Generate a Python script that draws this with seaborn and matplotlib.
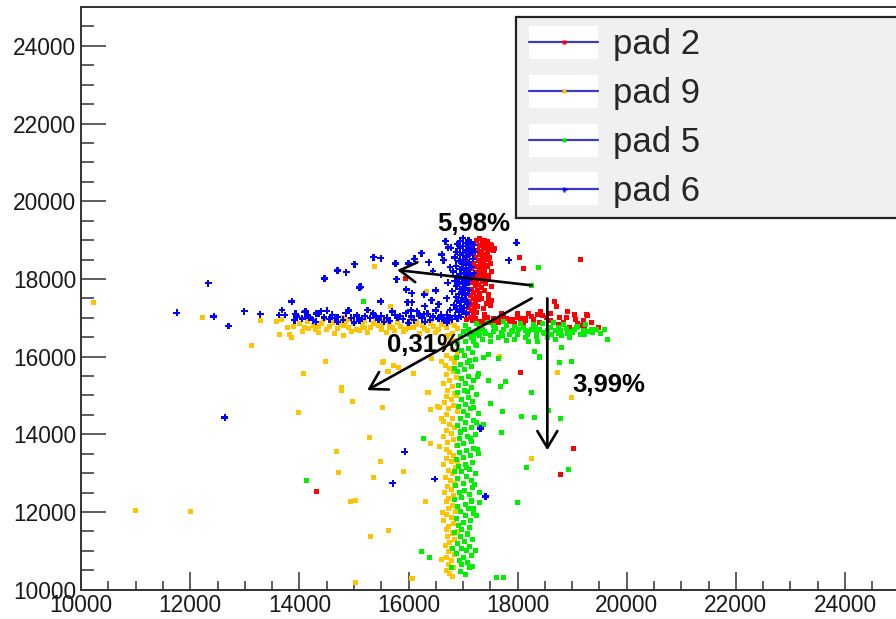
import numpy as np
import pandas as pd
import matplotlib
matplotlib.use("Agg")
import matplotlib.pyplot as plt
import seaborn as sns
from matplotlib.lines import Line2D
from matplotlib.patches import Rectangle
from matplotlib.legend_handler import HandlerBase
from matplotlib.ticker import MultipleLocator

# ---------------------------------------------------------------- data
pad_names = ["pad 2", "pad 9", "pad 5", "pad 6"]
pad_colors = ["#ff0000", "#ffc400", "#00f000", "#0000ff"]

# pad 2 (red)
pad2_x = [17300, 17400, 17250, 17450, 17350, 17200, 17500, 17300, 17420, 17150, 17380, 17480, 17260, 17330,
          17440, 17180, 17300, 17400, 17220, 17350, 17470, 17280, 17380, 17200, 17320, 17420, 17250, 17350,
          17150, 17300, 17400, 17230, 17330, 17270, 17380, 17200, 17300, 17240, 17350, 17180, 17290, 17220,
          17330, 17160, 17260, 17200, 17300, 17140, 17250, 17190, 17280, 17120, 17230, 17170, 17260, 17100,
          17210, 17150, 17250, 17080, 17190, 17130, 17230, 17060, 17170, 17520, 17500, 17110, 17050, 17460,
          17450, 17520, 17380, 17550, 17420, 17480, 17360, 17500, 17440, 17400, 17520, 17350, 17470, 17410,
          17530, 17390, 17460, 17340, 17430, 17370,
          17300, 17400, 17500, 17600, 17700, 17800, 17900, 18000, 18100, 18200, 18300, 18360, 18420, 18530,
          18670, 18720, 18770, 18910, 18950, 19060, 19100, 19220, 19260, 19480, 19280,
          17350, 17450, 17550, 17650, 17750, 17850, 17950, 18050, 18150, 18250, 18400, 18600, 18850, 19150,
          17990, 18080, 17870, 17690,
          17400, 17550, 17700, 17850, 18000, 18150, 18300, 18450, 18600, 18750, 18900, 19050, 19200, 19350,
          18040, 18110, 17580, 19160, 15940, 18050, 19030, 18780, 14310, 17470]
pad2_y = [19050, 19000, 18980, 18950, 18920, 18900, 18880, 18850, 18820, 18800, 18780, 18760, 18740, 18700,
          18680, 18650, 18620, 18590, 18560, 18530, 18500, 18470, 18440, 18410, 18380, 18350, 18320, 18290,
          18260, 18230, 18200, 18170, 18140, 18100, 18060, 18030, 18000, 17960, 17930, 17900, 17860, 17820,
          17780, 17740, 17700, 17660, 17620, 17580, 17540, 17500, 17460, 17420, 17380, 17340, 17300, 17260,
          17220, 17180, 17140, 17100, 17060, 17020, 16990, 16960, 16930, 17450, 17320, 18700, 18500, 18100,
          18960, 18870, 18790, 18720, 18640, 18560, 18480, 18400, 18330, 18250, 18180, 18080, 17990, 17890,
          17800, 17700, 17600, 17500, 17380, 17250,
          16900, 16950, 16880, 16960, 16920, 16990, 16950, 17010, 16890, 17110, 16960, 17090, 17170, 17000,
          17430, 17290, 17000, 17150, 16760, 16960, 16850, 16700, 17090, 16750, 17060,
          16850, 17020, 16940, 16880, 17050, 16900, 16860, 16980, 16930, 17040, 16880, 16920, 16880, 16790,
          17000, 16890, 16960, 16960,
          17080, 16980, 17100, 16930, 17120, 16990, 16900, 17050, 17100, 16830, 17000, 17080, 16920, 16880,
          18550, 18270, 18780, 18500, 18010, 15590, 13630, 12960, 12530, 17460]

# pad 9 (orange)
pad9_x = [14000, 14100, 14150, 14250, 14300, 14400, 14450, 14550, 14600, 14700, 14750, 14850, 14900, 15000,
          15050, 15150, 15200, 15300, 15350, 15450, 15500, 15550, 15650, 15700, 15800, 15850, 15950, 16000,
          16100, 16150, 16250, 16300, 16400, 16450, 16550, 16600, 16700, 16750, 16850, 16900, 14050, 14350,
          14650, 14950, 15250, 15600, 15900, 16200, 16500, 14200, 14800, 15400, 16050, 16650, 14500, 15100,
          15750, 16350, 14900, 15500, 16000, 13900, 14350, 14800, 15200, 15650, 16150,
          16800, 16700, 16850, 16750, 16650, 16800, 16900, 16700, 16780, 16850, 16680, 16750, 16820, 16700,
          16880, 16760, 16650, 16800, 16720, 16850, 16700, 16780, 16660, 16820, 16740, 16900, 16700, 16800,
          16650, 16760, 16850, 16700, 16780, 16640, 16820, 16720, 16880, 16690, 16760, 16830, 16700, 16790,
          16650, 16860, 16740, 16800, 16680, 16770, 16850, 16710, 16790, 16660, 16830, 16740, 16690, 16810,
          16730, 16860, 16700, 16780, 16650, 16820, 16740, 16690, 16800, 16720, 16850, 16760, 16680, 16790,
          16730, 16840, 16700, 16780, 16740, 16820, 16700, 16760, 16800, 16720, 16880, 16600, 16900, 16620,
          16900,
          10230, 12230, 13280, 13130, 13630, 13580, 13680, 13780, 13810, 13860, 13980, 11000, 12010, 14160,
          14800, 14480, 14080, 14780, 14780, 14970, 15280, 14680, 14710, 15360, 14940, 15030, 15310, 15030,
          15490, 15520, 15640, 15820, 16100, 16370, 16560, 15530, 15640, 16070, 16610, 18730, 18990, 18260,
          17660, 16340, 16400, 16540, 16400, 16560, 15540, 15730, 15620, 16090, 16610, 16430, 15900, 16310,
          16330, 15380, 15670, 16050]
pad9_y = [16850, 16750, 16900, 16800, 16700, 16850, 16950, 16780, 16880, 16720, 16830, 16900, 16760, 16850,
          16700, 16800, 16930, 16750, 16860, 16790, 16700, 16900, 16820, 16740, 16870, 16780, 16700, 16840,
          16760, 16910, 16800, 16720, 16850, 16770, 16690, 16830, 16760, 16880, 16800, 16720, 16650, 16620,
          16600, 16640, 16620, 16610, 16640, 16600, 16620, 16980, 17000, 16990, 16980, 16960, 16700, 16680,
          16680, 16660, 16950, 16800, 16760, 16780, 16780, 16800, 16760, 16740, 16820,
          16600, 16500, 16420, 16340, 16260, 16180, 16100, 16020, 15940, 15860, 15780, 15700, 15620, 15540,
          15460, 15380, 15300, 15220, 15140, 15060, 14980, 14900, 14820, 14740, 14660, 14580, 14500, 14420,
          14340, 14260, 14180, 14100, 14020, 13940, 13860, 13780, 13700, 13620, 13540, 13460, 13380, 13300,
          13220, 13140, 13060, 12980, 12900, 12820, 12740, 12660, 12580, 12500, 12420, 12340, 12260, 12180,
          12100, 12020, 11940, 11860, 11780, 11700, 11620, 11540, 11460, 11380, 11300, 11220, 11140, 11060,
          10980, 10900, 10820, 10740, 10660, 10580, 10500, 10420, 10340, 16550, 15000, 14400, 13300, 12000,
          11500,
          17390, 17000, 16930, 16290, 16580, 16900, 16960, 16750, 16580, 16500, 14570, 12040, 12010, 16720,
          16550, 15870, 15560, 15200, 15130, 14850, 13910, 13550, 13030, 12890, 12260, 12290, 11370, 10180,
          13310, 15860, 15630, 15710, 15570, 15070, 14680, 14680, 11520, 10280, 10770, 15590, 14960, 13380,
          16010, 15070, 14640, 14720, 13760, 13680, 15880, 15770, 15630, 15560, 15870, 15950, 13050, 12280,
          17670, 18310, 17300, 10290]

# pad 5 (green)
pad5_x = [17000, 17150, 16950, 17200, 17050, 16900, 17250, 17100, 16980, 17180, 17030, 16880, 17220, 17080,
          16960, 17150, 17020, 16900, 17280, 17100, 16980, 17200, 17050, 16920, 17160, 17030, 16900, 17250,
          17100, 16970, 17180, 17050, 16920, 17140, 17000, 17280, 17080, 16950, 17200, 17040, 16900, 17160,
          17020, 16960, 17230, 17090, 16930, 17150, 17010, 16890, 17200, 17060, 16940, 17130, 17000, 16880,
          17180, 17040, 16920, 17110, 16980, 17220, 17070, 16900, 17150, 17000, 16860, 17180, 17030, 16930,
          17120, 16980, 16850, 17160, 17050, 16900, 17100, 16960, 17200, 17040, 16880, 17140, 17000, 16920,
          17120, 16980, 16840, 17090, 16950, 17180, 17030, 16900, 17110, 16970, 17060, 16880, 17150, 17000,
          16930, 17080, 16980, 17120, 16960, 17040, 17250, 16850, 17300, 16850, 17300, 16800, 17200, 17280,
          17230, 17120, 17260, 17080, 17190, 17240, 17130, 17270, 17060, 17210, 17150, 17250, 17090, 17220,
          17170,
          17100, 17200, 17300, 17400, 17500, 17600, 17700, 17800, 17900, 18000, 18100, 18200, 18300, 18400,
          18500, 18600, 18700, 18800, 18900, 19000, 19100, 19200, 19300, 19450, 19650, 17150, 17250, 17350,
          17450, 17550, 17650, 17750, 17850, 17950, 18050, 18150, 18250, 18350, 18450, 18550, 18650, 18750,
          18850, 18950, 19050, 19150, 19250, 19350, 17150, 17350, 17550, 17750, 17950, 18150, 18350, 18550,
          18750, 18950, 17200, 17500, 17800, 18200, 18700, 19290, 19600, 17050, 17300,
          17120, 17280, 17420, 17580, 17720, 17880, 18020, 18180, 18320, 18480, 18620, 18780, 18920, 19080,
          19220, 19380, 19520,
          18310, 18410, 18760, 18990, 18810, 18260, 18070, 18310, 18790, 18560, 18160, 18940, 17690, 17780,
          17510, 17730, 17380, 17710, 16280, 17990, 17310, 16230, 16390, 16780, 17620, 17740, 14130, 15180,
          18260, 18390, 17460, 17650, 17380, 18360, 17470, 18400]
pad5_y = [16650, 16580, 16520, 16460, 16400, 16340, 16280, 16220, 16160, 16100, 16040, 15980, 15920, 15860,
          15800, 15740, 15680, 15620, 15560, 15500, 15440, 15380, 15320, 15260, 15200, 15140, 15080, 15020,
          14960, 14900, 14840, 14780, 14720, 14660, 14600, 14540, 14480, 14420, 14360, 14300, 14240, 14180,
          14120, 14060, 14000, 13940, 13880, 13820, 13760, 13700, 13640, 13580, 13520, 13460, 13400, 13340,
          13280, 13220, 13160, 13100, 13040, 12980, 12920, 12860, 12800, 12740, 12680, 12620, 12560, 12500,
          12440, 12380, 12320, 12260, 12200, 12140, 12080, 12020, 11960, 11900, 11840, 11780, 11720, 11660,
          11600, 11540, 11480, 11420, 11360, 11300, 11240, 11180, 11120, 11060, 11000, 10940, 10880, 10820,
          10760, 10700, 10640, 10560, 10480, 10400, 16600, 15700, 14200, 13050, 12500, 11050, 12100, 13500,
          16300, 15900, 15500, 15100, 14700, 14300, 13900, 13600, 13150, 12700, 12300, 11900, 11450, 11000,
          10600,
          16700, 16600, 16780, 16650, 16550, 16720, 16620, 16800, 16680, 16560, 16740, 16640, 16820, 16700,
          16600, 16760, 16660, 16540, 16720, 16620, 16780, 16680, 16640, 16700, 16440, 16500, 16850, 16450,
          16880, 16640, 16500, 16900, 16580, 16450, 16850, 16500, 16700, 16520, 16860, 16480, 16880, 16600,
          16820, 16500, 16700, 16560, 16820, 16700, 16620, 16700, 16800, 16700, 16780, 16660, 16620, 16680,
          16750, 16640, 16400, 16380, 16420, 16400, 16440, 16650, 16700, 16800, 16550,
          16580, 16680, 16600, 16740, 16540, 16640, 16700, 16580, 16760, 16620, 16560, 16680, 16600, 16740,
          16560, 16620, 16600,
          16120, 15970, 15840, 15870, 16230, 15070, 14470, 14430, 14400, 14610, 13140, 13090, 15220, 15350,
          14790, 14580, 14250, 14050, 13880, 12250, 12250, 10990, 10840, 10560, 10320, 10320, 12820, 17410,
          17820, 18290, 16060, 15950, 15970, 16400, 15390, 16010]

# pad 6 (blue)
pad6_x = [17000, 17100, 16950, 17150, 17050, 16900, 17200, 17000, 17100, 16950, 17150, 17050, 16880, 17000,
          17120, 16950, 17060, 16850, 17180, 17000, 16920, 17100, 16980, 17050, 16870, 17150, 17000, 16940,
          17080, 16820, 17020, 16960, 17120, 16900, 17040, 16980, 17100, 16850, 17000, 16930, 17060, 16880,
          17010, 16950, 17100, 16800, 16990, 16920, 17050, 16870, 16980, 17030, 16900, 16960, 17080, 16830,
          16950, 17020, 16880, 16760, 16990, 16920, 17060, 16700, 16850, 16960, 16640, 17180, 17220, 17200,
          16780, 16760, 16720,
          13950, 14050, 14150, 14250, 14350, 14450, 14550, 14600, 14700, 14800, 14850, 14950, 15050, 15100,
          15200, 15300, 15350, 15450, 15500, 15600, 15650, 15750, 15800, 15900, 15950, 16050, 16100, 16200,
          16250, 16350, 16400, 16450, 16550, 16600, 16650, 16750, 16800, 16850, 16900, 14100, 14500, 14900,
          15250, 15700, 16150, 16500, 16700, 14300, 15000, 15550, 16000, 14700, 15400, 16300, 14200, 14650,
          15150, 15850,
          11750, 12330, 12430, 12700, 12990, 13280, 13630, 13730, 13680, 13860, 13930, 13910, 14460, 14110,
          14180, 14310, 14400, 12630, 16680, 16240, 16370, 16610, 16730, 16640, 15360, 15490, 15010, 14700,
          14860, 15100, 15760, 16000, 15780, 15960, 16060, 15980, 16060, 15490, 16040, 16420, 16290, 16290,
          17980, 17840, 16110, 15120, 16300, 16500, 16600, 16450, 16700, 16550,
          15930, 16480, 15710, 17320, 17410]
pad6_y = [19050, 19000, 18980, 18950, 18920, 18900, 18880, 18850, 18820, 18790, 18760, 18730, 18700, 18670,
          18640, 18610, 18580, 18550, 18520, 18490, 18460, 18430, 18400, 18370, 18340, 18310, 18280, 18250,
          18220, 18190, 18160, 18130, 18100, 18070, 18040, 18000, 17970, 17940, 17910, 17880, 17850, 17810,
          17780, 17740, 17710, 17680, 17650, 17610, 17580, 17540, 17510, 17470, 17440, 17400, 17370, 17330,
          17300, 17260, 17230, 17200, 17170, 17140, 17110, 17080, 17050, 17020, 16990, 18900, 18700, 18150,
          18800, 18300, 17900,
          17030, 16980, 17060, 16940, 17100, 17010, 16960, 17080, 17020, 16950, 17120, 17000, 17060, 16930,
          17040, 16990, 17110, 16950, 17050, 17000, 16920, 17080, 17000, 16960, 17120, 17030, 16940, 17060,
          16990, 17100, 16950, 17030, 16980, 17080, 16930, 17010, 16960, 17050, 16990, 17150, 17180, 17190,
          17200, 17160, 17170, 17190, 16880, 16900, 16880, 16890, 16870, 16890, 17030, 16890, 17000, 17000,
          16970, 17040,
          17130, 17890, 17030, 16790, 17170, 17090, 17070, 17070, 17200, 17420, 17100, 16940, 18010, 17170,
          17010, 17110, 17170, 14430, 18970, 18660, 18430, 18630, 18810, 18480, 18560, 18530, 18380, 18220,
          18170, 17780, 18400, 18400, 17990, 17730, 17630, 17400, 17400, 17420, 17190, 17450, 17600, 17090,
          18930, 18480, 18520, 17800, 17300, 17700, 18100, 18200, 17500, 17350,
          13550, 12850, 12740, 14150, 12400]

# annotated fractions: arrow start, arrow tip, label position
arrow_start = [(18257, 17835), (18257, 17500), (18545, 17500)]
arrow_end = [(15793, 18229), (15242, 15137), (18545, 13590)]
frac_labels = ["5,98%", "0,31%", "3,99%"]
frac_pos = [(17190, 19410), (16270, 16290), (19670, 15280)]

# ---------------------------------------------------------------- style
sns.set_style("white")
plt.rcParams["font.family"] = ["Liberation Sans", "DejaVu Sans"]

df = pd.concat([
    pd.DataFrame({"x": pad2_x, "y": pad2_y, "pad": "pad 2"}),
    pd.DataFrame({"x": pad9_x, "y": pad9_y, "pad": "pad 9"}),
    pd.DataFrame({"x": pad5_x, "y": pad5_y, "pad": "pad 5"}),
    pd.DataFrame({"x": pad6_x, "y": pad6_y, "pad": "pad 6"}),
], ignore_index=True)

fig = plt.figure(figsize=(8.96, 6.19), dpi=100)
ax = fig.add_axes([0.0906, 0.0473, 0.9133, 0.9414])

pad_markers = {"pad 2": "s", "pad 9": "s", "pad 5": "s", "pad 6": "P"}
pad_sizes = {"pad 2": 13, "pad 9": 13, "pad 5": 13, "pad 6": 24}
for name, col in zip(pad_names, pad_colors):
    sub = df[df["pad"] == name]
    sns.scatterplot(data=sub, x="x", y="y", color=col, marker=pad_markers[name],
                    s=pad_sizes[name], linewidth=0, edgecolor="none", ax=ax, legend=False)

ax.set_xlim(10000, 25000)
ax.set_ylim(10000, 25000)
ax.set_xlabel("")
ax.set_ylabel("")

ax.xaxis.set_major_locator(MultipleLocator(2000))
ax.yaxis.set_major_locator(MultipleLocator(2000))
ax.xaxis.set_minor_locator(MultipleLocator(500))
ax.yaxis.set_minor_locator(MultipleLocator(500))
ax.xaxis.set_major_formatter(plt.FuncFormatter(lambda v, p: f"{v:.0f}"))
ax.yaxis.set_major_formatter(plt.FuncFormatter(lambda v, p: f"{v:.0f}"))

axis_col = "#333333"
for side in ["left", "bottom", "top", "right"]:
    ax.spines[side].set_color(axis_col)
    ax.spines[side].set_linewidth(1.4)
ax.tick_params(axis="both", which="both", direction="in", color=axis_col, width=1.1,
               labelsize=16.4, labelcolor="#1a1a1a",
               left=True, bottom=True, top=False, right=False)
ax.tick_params(axis="y", which="major", length=18, pad=3.5)
ax.tick_params(axis="y", which="minor", length=9.5)
ax.tick_params(axis="x", which="major", length=13, pad=3)
ax.tick_params(axis="x", which="minor", length=6.5)

# arrows with percentage labels
for (x0, y0), (x1, y1) in zip(arrow_start, arrow_end):
    ax.annotate("", xy=(x1, y1), xytext=(x0, y0),
                arrowprops=dict(arrowstyle="->,head_length=0.6,head_width=0.36",
                                mutation_scale=20, lw=1.9, color="black",
                                shrinkA=0, shrinkB=0))
for txt, (tx, ty) in zip(frac_labels, frac_pos):
    ax.text(tx, ty, txt, ha="center", va="center", fontsize=18.5,
            fontweight="bold", color="black")


# legend: white handle box with a blue line and the pad's marker
class PadHandler(HandlerBase):
    def create_artists(self, legend, orig_handle, xdescent, ydescent,
                       width, height, fontsize, trans):
        x0 = -xdescent + 0.042 * width
        x1 = -xdescent + width
        cy = -ydescent + height / 2
        bh = 0.95 * fontsize
        box = Rectangle((x0, cy - bh / 2), x1 - x0, bh, facecolor="white",
                        edgecolor="none", transform=trans)
        line = Line2D([x0, x1], [cy, cy], color="#3a3ac4", lw=1.6, transform=trans)
        mk = Line2D([(x0 + x1) / 2], [cy], marker=orig_handle.get_marker(),
                    markersize=orig_handle.get_markersize(),
                    markerfacecolor=orig_handle.get_markerfacecolor(),
                    markeredgecolor="none", linestyle="none", transform=trans)
        return [box, line, mk]


handles = [Line2D([], [], marker=pad_markers[n], markersize=3.2 if n != "pad 6" else 3.6,
                  markerfacecolor=c, linestyle="none") for n, c in zip(pad_names, pad_colors)]
leg = ax.legend(handles, pad_names, handler_map={Line2D: PadHandler()},
                loc="upper left", mode="expand",
                bbox_to_anchor=(516 / 896, 1 - 215 / 619, 400 / 896, 198 / 619),
                bbox_transform=fig.transFigure, borderaxespad=0,
                fontsize=25, handlelength=2.05, handleheight=0.95,
                handletextpad=0.43, labelspacing=0.43, borderpad=0.3,
                frameon=True, fancybox=False)
frame = leg.get_frame()
frame.set_facecolor("#f0f0f0")
frame.set_edgecolor("#222222")
frame.set_linewidth(1.6)
frame.set_alpha(1)

fig.savefig("out.png", dpi=100)
